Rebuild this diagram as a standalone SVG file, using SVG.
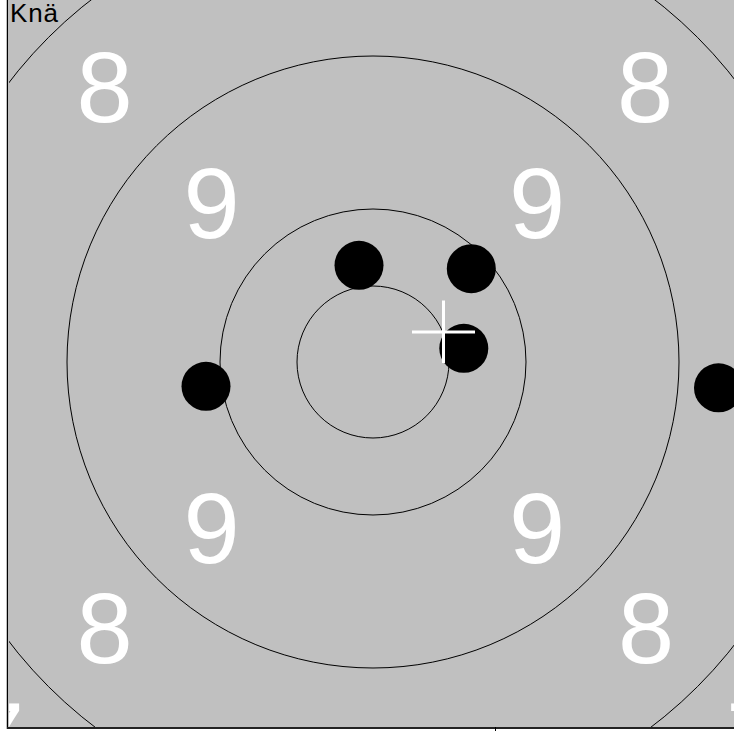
<svg xmlns="http://www.w3.org/2000/svg" width="734" height="731" viewBox="0 0 734 731">
<style>
.ring{fill:none;stroke:#000;stroke-width:1}
.num{font-family:"Liberation Sans",Arial,sans-serif;font-size:101px;fill:#fff;text-anchor:middle}
.shot{fill:#000}
.cross{stroke:#fff;stroke-width:3}
</style>
<defs>
<clipPath id="area"><rect x="9" y="0" width="725" height="727"/></clipPath>
</defs>
<rect x="0" y="0" width="734" height="731" fill="#fff"/>
<g id="target" clip-path="url(#area)">
<rect x="9" y="0" width="725" height="727" fill="#c0c0c0"/>
<circle class="ring" cx="373" cy="362" r="76"/>
<circle class="ring" cx="373" cy="362" r="153"/>
<circle class="ring" cx="373" cy="362" r="306"/>
<circle class="ring" cx="373" cy="362" r="459"/>
<g id="labels">
<text class="num" x="104.5" y="122">8</text>
<text class="num" x="645" y="122">8</text>
<text class="num" x="104.5" y="663">8</text>
<text class="num" x="646" y="663">8</text>
<text class="num" x="211.5" y="238">9</text>
<text class="num" x="537" y="238">9</text>
<text class="num" x="211.5" y="563">9</text>
<text class="num" x="537" y="563">9</text>
<text class="num" x="-4" y="773">7</text>
<text class="num" x="754" y="773">7</text>
</g>
<g id="shots">
<circle class="shot" cx="359" cy="265.3" r="24.5"/>
<circle class="shot" cx="471.3" cy="268.7" r="24.5"/>
<circle class="shot" cx="463.8" cy="348.3" r="24.5"/>
<circle class="shot" cx="206" cy="386.3" r="24.5"/>
<circle class="shot" cx="718.5" cy="387.8" r="24.5"/>
</g>
<g id="crosshair">
<line class="cross" x1="412" y1="332" x2="475" y2="332"/>
<line class="cross" x1="443.5" y1="300.5" x2="443.5" y2="363"/>
</g>
</g>
<g id="frame">
<line x1="7.5" y1="0" x2="7.5" y2="729" stroke="#000" stroke-width="1.5"/>
<line x1="7" y1="728" x2="734" y2="728" stroke="#222" stroke-width="2"/>
<line x1="495.5" y1="727" x2="495.5" y2="731" stroke="#000" stroke-width="1"/>
</g>
<text id="title" x="10" y="22" font-family="'Liberation Sans',Arial,sans-serif" font-size="26" letter-spacing="0.8" fill="#000">Knä</text>
</svg>
